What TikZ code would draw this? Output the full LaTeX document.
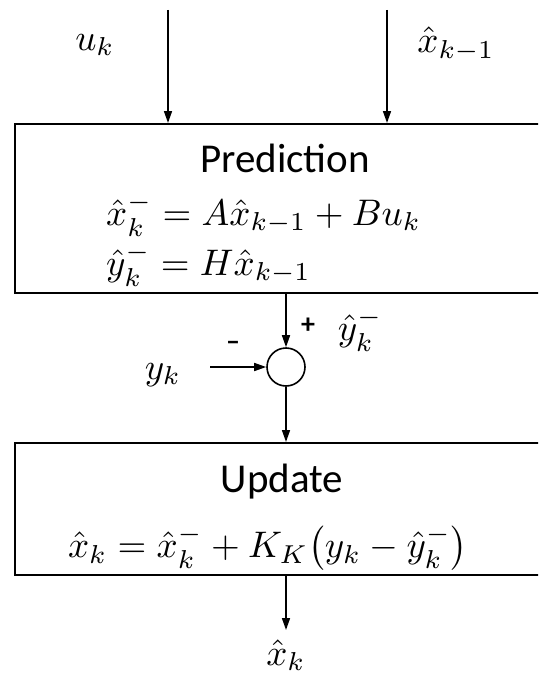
\documentclass[tikz,border=0pt]{standalone}
\usepackage{amsmath}
\usepackage{fontspec}
\setmainfont{Carlito}
\usetikzlibrary{arrows.meta, positioning, calc}

\newcommand{\bigmath}[1]{\scalebox{3.7}{$#1$}}

\begin{document}
\begin{tikzpicture}[
    x=1pt, y=-1pt,
    blockbox/.style={rectangle, draw=black, line width=2pt, anchor=north west, inner sep=0pt},
    sumnode/.style={circle, draw=black, line width=1.6pt, minimum size=38pt, inner sep=0pt},
    lbl/.style={font=\fontsize{41}{48}\selectfont, inner sep=0pt},
    mth/.style={font=\fontsize{10}{12}\selectfont, inner sep=0pt},
    sgn/.style={font=\fontsize{28}{32}\selectfont\bfseries, inner sep=0pt},
    arrow/.style={-{Triangle[length=12pt, width=8pt]}, line width=1.6pt}
]
    \clip (0,0) rectangle (538,677);
    \useasboundingbox (0,0) rectangle (538,677);

    \node[blockbox, minimum width=531pt, minimum height=169pt] (pred) at (14,123) {};
    \node[blockbox, minimum width=531pt, minimum height=132pt] (upd)  at (14,442) {};
    \node[sumnode] (sum) at (286,367) {};

    \node[mth] (uk)    at (95,45)  {\bigmath{u_k}};
    \node[mth] (xprev) at (456,44) {\bigmath{\hat{x}_{k-1}}};
    \node[lbl] (predtitle) at (285,158) {Prediction};
    \node[mth, anchor=west] (eqx) at (106,215) {\bigmath{\hat{x}_k^- = A\hat{x}_{k-1} + Bu_k}};
    \node[mth, anchor=west] (eqy) at (106,265) {\bigmath{\hat{y}_k^- = H\hat{x}_{k-1}}};
    \node[sgn] (plus)  at (308,326) {+};
    \node[mth] (yhat)  at (360,330) {\bigmath{\hat{y}_k^-}};
    \node[sgn] (minus) at (233,346) {--};
    \node[mth] (yk)    at (163,375) {\bigmath{y_k}};
    \node[lbl] (updtitle) at (282,482) {Update};
    \node[mth] (equpd) at (268,548) {\bigmath{\hat{x}_k = \hat{x}_k^- + K_K\bigl(y_k - \hat{y}_k^-\bigr)}};
    \node[mth] (xk)    at (286,655) {\bigmath{\hat{x}_k}};

    \coordinate (uin) at (168,10);
    \coordinate (xin) at (387,10);
    \coordinate (yin) at (210,367);
    \coordinate (xout) at (286,630);

    \draw[arrow] (uin) -- (uin |- pred.north);
    \draw[arrow] (xin) -- (xin |- pred.north);
    \draw[arrow] (sum.north |- pred.south) -- (sum.north);
    \draw[arrow] (yin) -- (sum.west);
    \draw[arrow] (sum.south) -- (sum.south |- upd.north);
    \draw[arrow] (sum.south |- upd.south) -- (xout);
\end{tikzpicture}
\end{document}
